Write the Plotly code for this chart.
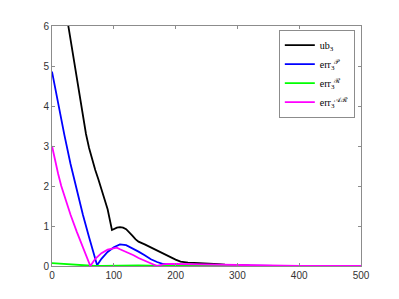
import plotly.graph_objects as go

# ub_3
x_ub = [0, 10, 20, 30, 40, 45, 50, 55, 60, 65, 70, 75, 78, 85, 90, 97, 100, 105, 110, 115, 120,
        125, 130, 135, 140, 150, 160, 170, 180, 190, 200, 208, 215, 220, 230, 240, 250, 260, 270,
        280, 290, 300, 320, 340, 360, 400, 450, 500]
ub3 = [8.5, 7.55, 6.6, 5.62, 4.65, 4.18, 3.72, 3.3, 2.95, 2.65, 2.4, 2.17, 2.03, 1.68, 1.42, 0.9,
       0.92, 0.96, 0.97, 0.96, 0.92, 0.85, 0.76, 0.67, 0.61, 0.54, 0.46, 0.38, 0.31, 0.24, 0.16,
       0.11, 0.09, 0.085, 0.08, 0.075, 0.065, 0.055, 0.045, 0.035, 0.025, 0.018, 0.01, 0.005,
       0.002, 0.0, 0.0, 0.0]

# err_3^P
x_p = [0, 10, 20, 30, 40, 50, 60, 70, 73, 80, 90, 100, 110, 120, 130, 140, 150, 160, 170, 180,
       190, 200, 220, 240, 260, 280, 300, 320, 340, 360, 400, 450, 500]
errP = [4.86, 4.05, 3.28, 2.55, 1.88, 1.28, 0.72, 0.2, 0.02, 0.18, 0.35, 0.47, 0.54, 0.52, 0.45,
        0.36, 0.27, 0.17, 0.1, 0.05, 0.035, 0.03, 0.03, 0.028, 0.022, 0.016, 0.01, 0.006, 0.003,
        0.001, 0.0, 0.0, 0.0]

# err_3^R
x_r = [0, 10, 20, 30, 40, 50, 60, 70, 80, 100, 120, 140, 160, 180, 200, 220, 300, 400, 500]
errR = [0.07, 0.06, 0.045, 0.03, 0.02, 0.01, 0.005, 0.0, 0.005, 0.012, 0.018, 0.015, 0.01, 0.005,
        0.002, 0.001, 0.0, 0.0, 0.0]

# err_3^AR
x_ar = [0, 5, 10, 15, 20, 25, 30, 40, 50, 60, 62, 70, 80, 90, 100, 105, 110, 120, 132, 140, 154,
        162, 170, 180, 186, 200, 220, 240, 260, 280, 300, 320, 340, 360, 400, 450, 500]
errAR = [3.0, 2.63, 2.3, 2.0, 1.75, 1.52, 1.28, 0.86, 0.46, 0.08, 0.0, 0.18, 0.32, 0.41, 0.45,
         0.46, 0.42, 0.36, 0.27, 0.2, 0.1, 0.05, 0.0, 0.04, 0.05, 0.05, 0.045, 0.035, 0.025, 0.018,
         0.012, 0.008, 0.004, 0.002, 0.0, 0.0, 0.0]

x_ticks = [0, 100, 200, 300, 400, 500]
y_ticks = [0, 1, 2, 3, 4, 5, 6]

names = ["ub<sub>3</sub>", "err<sub>3</sub><sup>𝒫</sup>", "err<sub>3</sub><sup>ℛ</sup>",
         "err<sub>3</sub><sup>𝒜ℛ</sup>"]
colors = ["#000000", "#0000ff", "#00ff00", "#ff00ff"]

fig = go.Figure()
for xs, ys, nm, c in [(x_ub, ub3, names[0], colors[0]), (x_p, errP, names[1], colors[1]),
                      (x_r, errR, names[2], colors[2]), (x_ar, errAR, names[3], colors[3])]:
    fig.add_trace(go.Scatter(x=xs, y=ys, mode="lines", name=nm, line=dict(color=c, width=1.8)))

axis_common = dict(showline=True, linecolor="#8c8c8c", linewidth=1, mirror="allticks",
                   ticks="inside", ticklen=3, tickcolor="#8c8c8c", showgrid=False, zeroline=False,
                   tickfont=dict(family="Liberation Sans, Arial, sans-serif", size=10, color="#333333"))

fig.update_layout(
    width=391, height=291,
    margin=dict(l=44, r=38, t=14, b=33),
    plot_bgcolor="white", paper_bgcolor="white",
    xaxis=dict(range=[0, 500], tickvals=x_ticks, **axis_common),
    yaxis=dict(range=[0, 6], tickvals=y_ticks, **axis_common),
    legend=dict(x=0.98, y=0.985, xanchor="right", yanchor="top", bgcolor="white",
                bordercolor="#8c8c8c", borderwidth=1, itemwidth=30,
                font=dict(family="Liberation Serif, Times New Roman, DejaVu Serif, serif", size=10,
                          color="#000000")),
    showlegend=True,
)

fig.write_html("out.html")
